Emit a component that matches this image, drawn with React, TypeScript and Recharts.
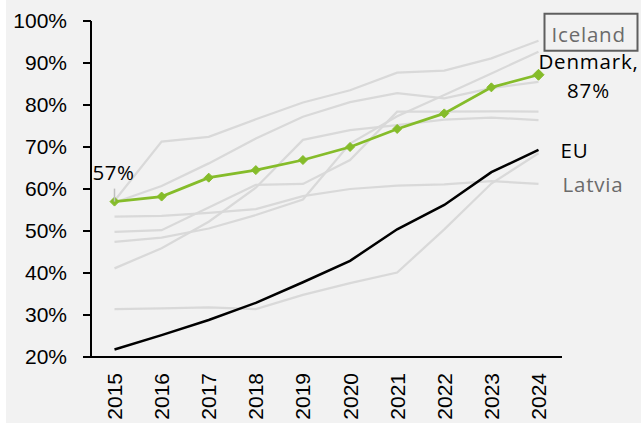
import React from 'react';
import { LineChart, Line, XAxis, YAxis, LabelList } from 'recharts';

const years = ['2015', '2016', '2017', '2018', '2019', '2020', '2021', '2022', '2023', '2024'];
const yTicks = [20, 30, 40, 50, 60, 70, 80, 90, 100];

const iceland = [57.2, 71.3, 72.4, 76.6, 80.6, 83.5, 87.7, 88.2, 91.1, 95.3];
const otherA = [56.8, 60.7, 66.1, 72.0, 77.2, 80.7, 82.8, 81.6, 84.0, 85.5];
const otherB = [49.8, 50.2, 55.6, 61.0, 61.2, 66.9, 78.4, 78.4, 78.5, 78.4];
const otherC = [41.1, 45.9, 52.2, 60.3, 71.7, 74.0, 75.2, 76.5, 77.0, 76.4];
const otherD = [47.4, 48.4, 50.6, 53.8, 57.5, 70.8, 77.3, 82.4, 87.5, 92.7];
const otherE = [31.4, 31.6, 31.8, 31.4, 34.8, 37.6, 40.1, 50.4, 61.3, 68.5];
const latvia = [53.4, 53.6, 54.3, 55.2, 58.3, 60.0, 60.8, 61.1, 61.9, 61.2];
const denmark = [57.0, 58.2, 62.7, 64.5, 66.9, 70.0, 74.3, 78.0, 84.2, 87.2];
const eu = [21.8, 25.2, 28.8, 32.9, 37.8, 42.9, 50.4, 56.2, 64.0, 69.3];

const data = years.map((year, i) => ({
  year,
  iceland: iceland[i],
  otherA: otherA[i],
  otherB: otherB[i],
  otherC: otherC[i],
  otherD: otherD[i],
  otherE: otherE[i],
  latvia: latvia[i],
  denmark: denmark[i],
  eu: eu[i],
}));

const lastIdx = years.length - 1;
const GRAY = '#d9d9d9';
const GREEN = '#85bc2a';
const LABEL_GRAY = '#6b6b6b';
const AXIS_FONT = '"Liberation Sans", Arial, sans-serif';
const LABEL_FONT = '"Open Sans", sans-serif';
const LABEL_SIZE = 20.5;

const XTick = (props: any) => {
  const { x, y, payload } = props;
  return (
    <text
      x={x}
      y={y}
      transform={`rotate(-90, ${x}, ${y})`}
      textAnchor="end"
      dy="0.36em"
      fontSize={21}
      fontFamily={AXIS_FONT}
      fill="#000"
    >
      {payload.value}
    </text>
  );
};

const Diamond = (props: any) => {
  const { cx, cy, index } = props;
  if (cx == null || cy == null) return null;
  const s = index === lastIdx ? 5.5 : 4.5;
  return (
    <path
      key={`d-${index}`}
      d={`M${cx},${cy - s}L${cx + s},${cy}L${cx},${cy + s}L${cx - s},${cy}Z`}
      fill={GREEN}
      stroke={GREEN}
      strokeWidth={1}
    />
  );
};

const denmarkLabel = (p: any) => {
  const { x, y, index, value } = p;
  if (index === 0) {
    return (
      <g>
        <line x1={x} y1={y - 13} x2={x} y2={y} stroke="#bfbfbf" strokeWidth={1.5} />
        <text x={x - 1} y={y - 30} textAnchor="middle" dominantBaseline="central" fontSize={LABEL_SIZE} letterSpacing={0.6} fontFamily={LABEL_FONT} fill="#000">
          {`${Math.round(value)}%`}
        </text>
      </g>
    );
  }
  if (index === lastIdx) {
    return (
      <text textAnchor="middle" dominantBaseline="central" fontSize={LABEL_SIZE} letterSpacing={0.8} fontFamily={LABEL_FONT} fill="#000">
        <tspan x={x + 50} y={y - 14}>Denmark,</tspan>
        <tspan x={x + 50} y={y + 15.5}>{`${Math.round(value)}%`}</tspan>
      </text>
    );
  }
  return null;
};

const endLabel = (name: string, color: string, dx: number, dy: number, boxed = false) => (p: any) => {
  const { x, y, index } = p;
  if (index !== lastIdx) return null;
  return (
    <g>
      {boxed && (
        <rect x={x + 6} y={y - 27} width={93} height={37} fill="none" stroke="#5f5f5f" strokeWidth={2} />
      )}
      <text x={x + dx} y={y + dy} dominantBaseline="central" fontSize={LABEL_SIZE} letterSpacing={0.8} fontFamily={LABEL_FONT} fill={color}>
        {name}
      </text>
    </g>
  );
};

const grayKeys = ['otherE', 'otherC', 'otherB', 'otherD', 'latvia', 'otherA', 'iceland'];

export default function App() {
  return (
    <div style={{ position: 'absolute', left: 0, top: 0, width: 641, height: 425, background: '#fff' }}>
      <div style={{ position: 'absolute', left: 6, top: 0, width: 635, height: 423, background: '#f2f2f2' }} />
      <div style={{ position: 'absolute', left: 0, top: 0 }}>
        <LineChart width={641} height={425} data={data} margin={{ top: 21, right: 79, bottom: 8, left: 0 }}>
          <XAxis
            dataKey="year"
            padding={{ left: 23.5, right: 23.5 }}
            axisLine={{ stroke: '#000', strokeWidth: 2 }}
            tickLine={false}
            tickSize={8}
            tickMargin={8}
            height={60}
            interval={0}
            tick={<XTick />}
          />
          <YAxis
            domain={[20, 100]}
            ticks={yTicks}
            width={91}
            allowDataOverflow
            axisLine={{ stroke: '#000', strokeWidth: 2 }}
            tickLine={{ stroke: '#000', strokeWidth: 2 }}
            tickSize={8}
            tickMargin={16}
            tickFormatter={(v: number) => `${v}%`}
            tick={{ fontSize: 21, fontFamily: AXIS_FONT, fill: '#000' }}
          />
          {grayKeys.map((k) => (
            <Line
              key={k}
              dataKey={k}
              stroke={GRAY}
              strokeWidth={2.25}
              dot={false}
              activeDot={false}
              isAnimationActive={false}
            >
              {k === 'latvia' && <LabelList dataKey={k} content={endLabel('Latvia', LABEL_GRAY, 24, 0)} />}
              {k === 'iceland' && <LabelList dataKey={k} content={endLabel('Iceland', LABEL_GRAY, 13, -7, true)} />}
            </Line>
          ))}
          <Line dataKey="eu" stroke="#000" strokeWidth={2.5} dot={false} activeDot={false} isAnimationActive={false}>
            <LabelList dataKey="eu" content={endLabel('EU', '#000', 22, 0)} />
          </Line>
          <Line dataKey="denmark" stroke={GREEN} strokeWidth={2.75} dot={<Diamond />} activeDot={false} isAnimationActive={false}>
            <LabelList dataKey="denmark" content={denmarkLabel} />
          </Line>
        </LineChart>
      </div>
    </div>
  );
}
